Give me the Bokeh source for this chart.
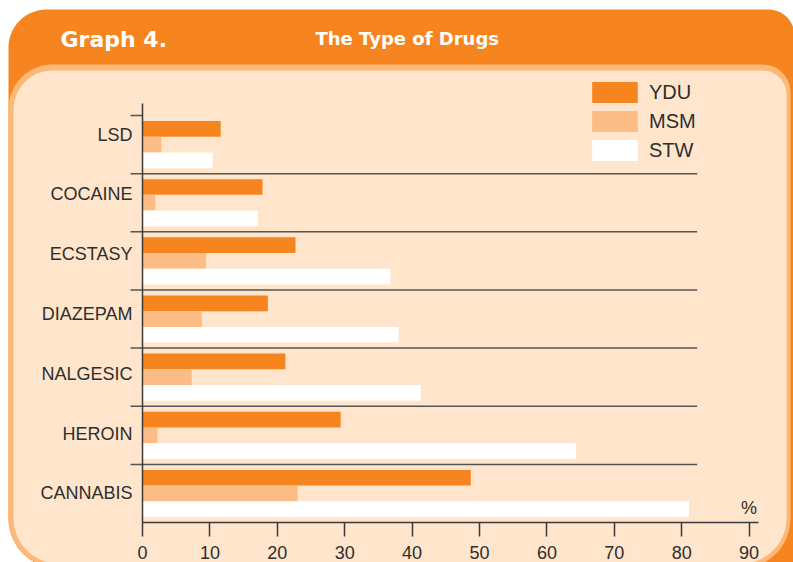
import math
from bokeh.plotting import figure
from bokeh.models import (ColumnDataSource, Range1d, LinearAxis, FixedTicker,
                          Legend, LegendItem, Label, Grid)
from bokeh.transform import dodge
from bokeh.embed import file_html
from bokeh.resources import INLINE

# ---------------- data ----------------
graph_label = "Graph 4."
chart_title = "The Type of Drugs"
categories = ["LSD", "COCAINE", "ECSTASY", "DIAZEPAM", "NALGESIC", "HEROIN", "CANNABIS"]
series = ["YDU", "MSM", "STW"]
ydu = [11.6, 17.8, 22.7, 18.6, 21.2, 29.4, 48.7]
msm = [2.8, 1.9, 9.4, 8.8, 7.3, 2.2, 23.0]
stw = [10.4, 17.1, 36.8, 38.0, 41.3, 64.3, 81.1]
x_ticks = [0, 10, 20, 30, 40, 50, 60, 70, 80, 90]
unit_label = "%"

# ---------------- style ----------------
ORANGE = "#F6851F"
LIGHT = "#FBBC86"
PEACH = "#FEE5CB"
RING = "#FBB877"
INK = "#2E2E2E"
LINE = "#3A3A3A"
SEP = "#555555"
FONT = "Liberation Sans"
HEAD_FONT = "DejaVu Sans"

W, H = 793, 562
X0_PX = 142.0        # canvas x of value 0
PX_X = 6.74          # pixels per percent
AX_END = 91.4        # end of x-axis line (data units)
SEP_END = 82.3       # end of separator lines (data units)
STUB_PX = 12.0       # separator stub left of the axis
AXIS_TOP_PX = 103.0  # top of the vertical axis line
BAND_TOP_PX = 115.0  # canvas y of top of first band
BAND_PX = 58.15      # band height
LBL_TOP_PX = 134.0   # canvas y of first category label
LBL_STEP = 59.8
BAR_H = 0.27

n = len(categories)
x_start = -X0_PX / PX_X
x_end = x_start + W / PX_X


def dx(px):
    return x_start + px / PX_X


def dy(py):
    return -0.5 + (py - BAND_TOP_PX) / BAND_PX


def ly(py):
    return (py - LBL_TOP_PX) / LBL_STEP


p = figure(width=W, height=H, output_backend="svg", toolbar_location=None, tools="",
           x_range=Range1d(x_start, x_end), y_range=Range1d(dy(H), dy(0)),
           y_axis_location=None, title=None, min_border=0,
           min_border_left=0, min_border_right=0, min_border_top=0, min_border_bottom=0,
           border_fill_color="white", background_fill_color="white",
           outline_line_color=None)
p.center = [c for c in p.center if not isinstance(c, Grid)]


# ---------------- card decoration ----------------
def rrect(x0, y0, x1, y1, tl, tr, br, bl, k=14):
    xs, ys = [], []

    def arc(cx, cy, r, a0, a1):
        if r <= 0:
            xs.append(cx)
            ys.append(cy)
            return
        for i in range(k + 1):
            a = math.radians(a0 + (a1 - a0) * i / k)
            xs.append(cx + r * math.cos(a))
            ys.append(cy + r * math.sin(a))

    arc(x0 + tl, y0 + tl, tl, 180, 270)
    arc(x1 - tr, y0 + tr, tr, 270, 360)
    arc(x1 - br, y1 - br, br, 0, 90)
    arc(x0 + bl, y1 - bl, bl, 90, 180)
    return [dx(v) for v in xs], [dy(v) for v in ys]


for shape, col in [((8, 9, 794, 568, 38, 26, 0, 50), ORANGE),
                   ((8, 64, 790, 568, 44, 28, 50, 50), RING),
                   ((13, 70, 786, 563, 39, 24, 45, 45), PEACH)]:
    xs, ys = rrect(*shape)
    p.patch(xs, ys, fill_color=col, line_color=None)

# ---------------- separators (with stubs left of the axis) ----------------
sep_y = [i - 0.5 for i in range(n)]
sep_x1 = [0.0] + [SEP_END] * (n - 1)
p.segment(x0=[-STUB_PX / PX_X] * n, x1=sep_x1, y0=sep_y, y1=sep_y,
          line_color=SEP, line_width=1.5)

# ---------------- bars ----------------
src = ColumnDataSource(dict(cat=categories, pos=list(range(n)), YDU=ydu, MSM=msm, STW=stw))
colors = [ORANGE, LIGHT, "white"]
offsets = [-BAR_H, 0.0, BAR_H]
items = []
for s, c, o in zip(series, colors, offsets):
    r = p.hbar(y=dodge("pos", o), left=0, right=s, height=BAR_H, source=src,
               fill_color=c, line_color=None)
    items.append(LegendItem(label=s, renderers=[r]))

# ---------------- axes ----------------
xax = p.xaxis[0]
xax.ticker = FixedTicker(ticks=x_ticks)
xax.fixed_location = n - 0.5
xax.bounds = (0, AX_END)
xax.axis_line_color = LINE
xax.axis_line_width = 1.5
xax.major_tick_line_color = LINE
xax.major_tick_line_width = 1.5
xax.major_tick_out = 14
xax.major_tick_in = 0
xax.minor_tick_out = 0
xax.minor_tick_in = 0
xax.major_label_standoff = 9
xax.major_label_text_font = FONT
xax.major_label_text_font_size = "18px"
xax.major_label_text_color = INK

p.extra_y_ranges = {"labels": Range1d(ly(H), ly(0))}
lax = LinearAxis(y_range_name="labels", ticker=FixedTicker(ticks=list(range(n))),
                 major_label_overrides={i: c for i, c in enumerate(categories)},
                 fixed_location=0, bounds=(ly(AXIS_TOP_PX), ly(BAND_TOP_PX + n * BAND_PX)),
                 axis_line_color=LINE, axis_line_width=1.5, major_tick_line_color=None,
                 major_tick_out=0, major_tick_in=0, minor_tick_out=0, minor_tick_in=0,
                 major_label_standoff=10, major_label_text_font=FONT,
                 major_label_text_font_size="18px", major_label_text_color=INK)
p.add_layout(lax, "left")

# ---------------- legend ----------------
legend = Legend(items=items, location=(586, 399), orientation="vertical",
                glyph_width=57, glyph_height=26, label_standoff=6, spacing=3,
                padding=0, margin=0, border_line_color=None, background_fill_alpha=0,
                label_text_font=FONT, label_text_font_size="20px", label_text_color=INK)
p.add_layout(legend, "center")

# ---------------- texts ----------------
p.add_layout(Label(x=dx(60), y=dy(38.7), text=graph_label, text_font=HEAD_FONT,
                   text_font_style="bold", text_font_size="22px", text_color="white",
                   text_align="left", text_baseline="alphabetic"))
p.add_layout(Label(x=dx(315), y=dy(37.7), text=chart_title, text_font=HEAD_FONT,
                   text_font_style="bold", text_font_size="18px", text_color="white",
                   text_align="left", text_baseline="alphabetic"))
p.add_layout(Label(x=x_ticks[-1], y=(n - 0.5) - 5 / BAND_PX, text=unit_label,
                   text_font=FONT, text_font_size="18px", text_color=INK,
                   text_align="center", text_baseline="bottom"))

open("out.html", "w").write(file_html(p, INLINE))
